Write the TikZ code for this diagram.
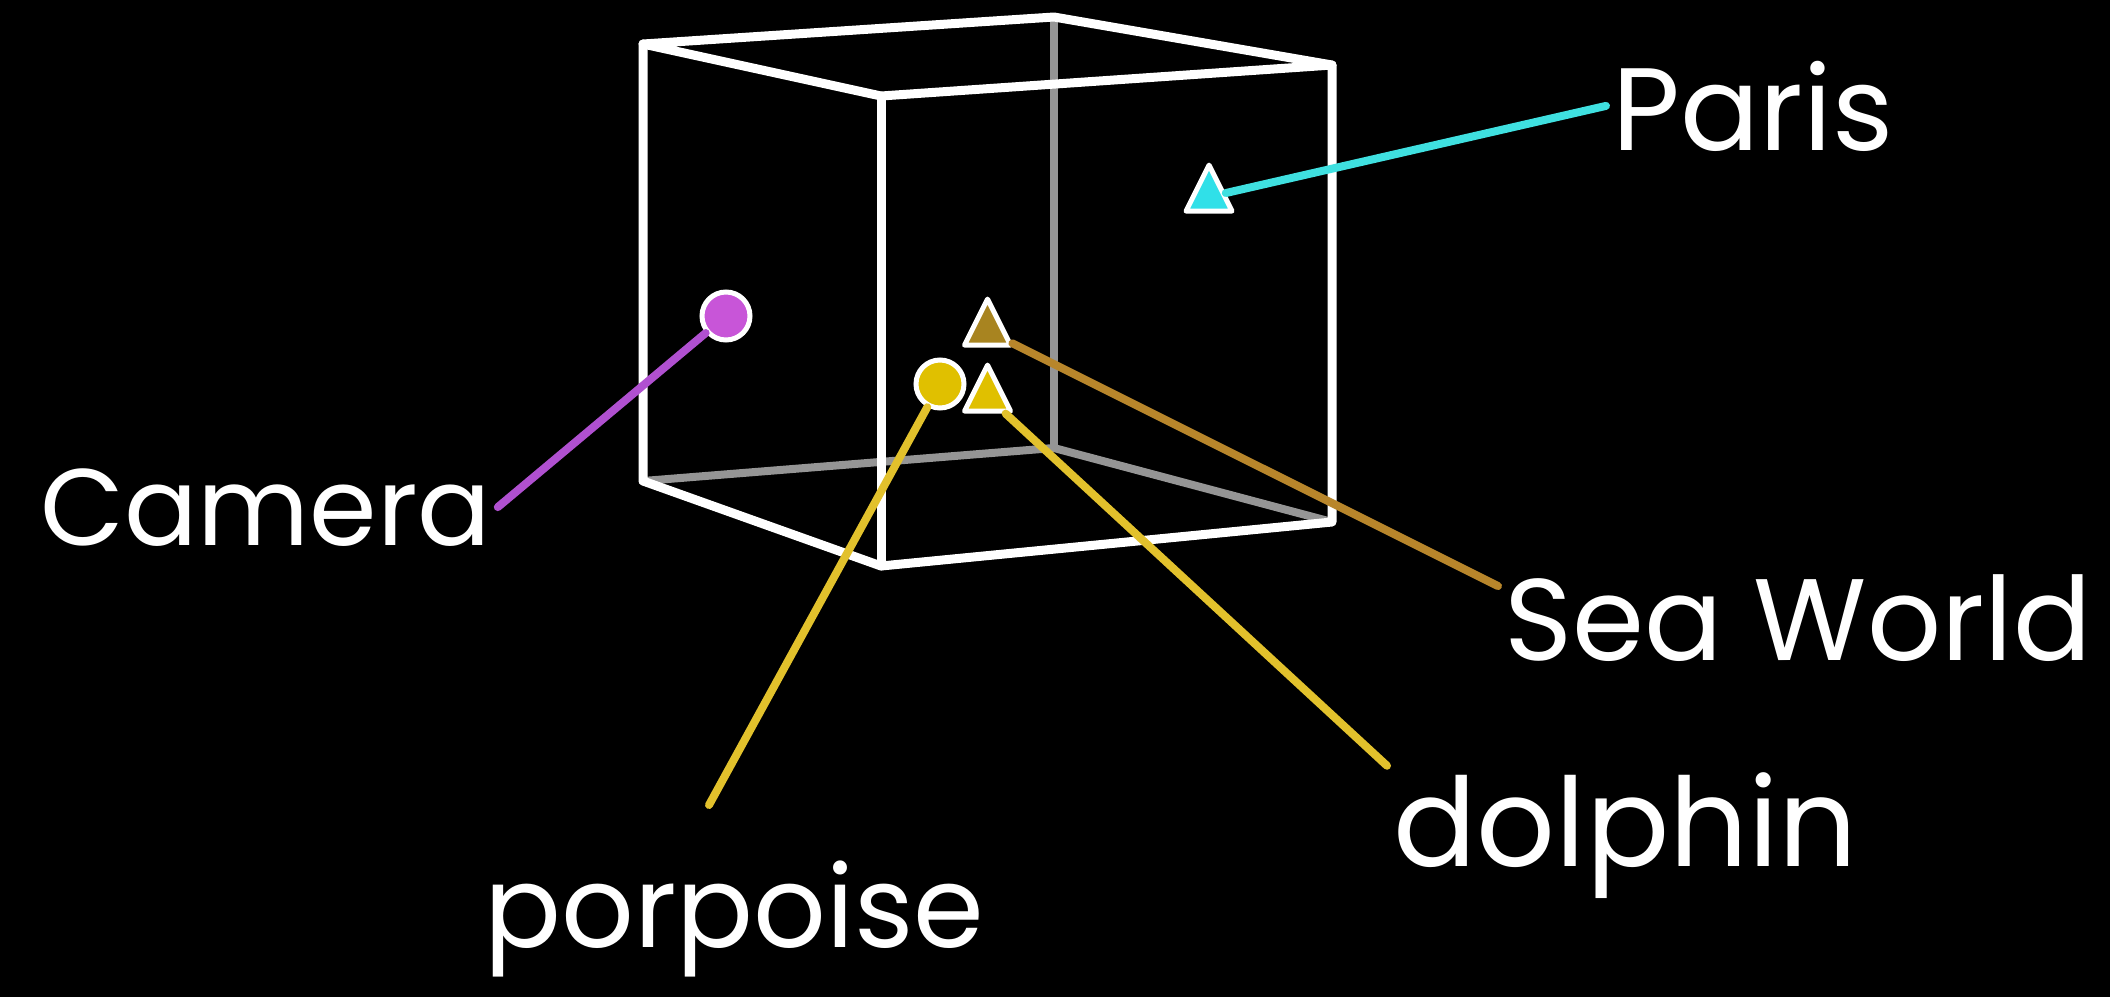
\documentclass[tikz,border=0pt]{standalone}
\usepackage{fontspec}
\setmainfont{Poppins}
\usetikzlibrary{shapes.geometric}
\definecolor{hid}{HTML}{959595}
\definecolor{cyanl}{HTML}{3FE0E0}
\definecolor{purpl}{HTML}{B050D0}
\definecolor{brownl}{HTML}{B8862B}
\definecolor{yell}{HTML}{E2C12C}
\definecolor{camfill}{HTML}{C855D8}
\definecolor{seafill}{HTML}{A88420}
\definecolor{yelfill}{HTML}{E0C000}
\definecolor{parfill}{HTML}{30E0E8}
\begin{document}
\begin{tikzpicture}[x=0.5pt,y=-0.5pt,
  cube/.style={white,line width=4.5pt,line join=round,line cap=round},
  hidden/.style={hid,line width=4pt,line cap=round},
  link/.style={line width=4pt,line cap=round},
  dot/.style={circle,draw=white,line width=2.5pt,minimum size=24pt,inner sep=0pt},
  tri/.style={isosceles triangle,isosceles triangle apex angle=53.13,
    isosceles triangle stretches,shape border rotate=90,draw=white,
    line width=2.5pt,line join=round,minimum width=23pt,minimum height=23pt,inner sep=0pt},
  lbl/.style={text=white,inner sep=3pt}]
\fill[black] (0,0) rectangle (2110,997);
\useasboundingbox (0,0) rectangle (2110,997);
% cube corners
\coordinate (btl) at (643,44);
\coordinate (btb) at (1054,17);
\coordinate (brt) at (1332,65);
\coordinate (ftl) at (881,96);
\coordinate (fbl) at (881,566);
\coordinate (brb) at (1332,522);
\coordinate (blb) at (643,481);
\coordinate (bbb) at (1054,448);
% hidden edges
\draw[hidden] (btb) -- (bbb);
\draw[hidden] (blb) -- (bbb) -- (brb);
% visible edges
\draw[cube] (btl) -- (btb) -- (brt) -- (ftl) -- cycle;
\draw[cube] (btl) -- (blb) -- (fbl) -- (brb) -- (brt);
\draw[cube] (ftl) -- (fbl);
% markers
\node[dot,fill=camfill] (cam) at (726,316) {};
\node[dot,fill=yelfill] (porp) at (940,384) {};
\node[tri,fill=seafill,anchor=apex] (sea) at (987.5,293.5) {};
\node[tri,fill=yelfill,anchor=apex] (dol) at (987.5,359.5) {};
\node[tri,fill=parfill,anchor=apex] (paris) at (1209,159.5) {};
% labels
\node[lbl,anchor=base west] (camlbl) at (34,545) {\resizebox{225.5pt}{!}{Camera}};
\node[lbl,anchor=base west] (parislbl) at (1606,150) {\resizebox{140.5pt}{!}{Paris}};
\node[lbl,anchor=base west] (sealbl) at (1498,660) {\resizebox{293.5pt}{!}{Sea World}};
\node[lbl,anchor=base west] (dollbl) at (1387,866) {\resizebox{232pt}{!}{dolphin}};
\node[lbl,anchor=base west] (porplbl) at (478,947) {\resizebox{250pt}{!}{porpoise}};
\coordinate (porpend) at (709,805);
% connectors
\draw[link,cyanl] (paris) -- (parislbl.west);
\draw[link,purpl] (cam) -- (camlbl.east);
\draw[link,brownl] (sea) -- (sealbl.174);
\draw[link,yell] (dol) -- (dollbl.north west);
\draw[link,yell] (porp) -- (porpend);
\end{tikzpicture}
\end{document}
